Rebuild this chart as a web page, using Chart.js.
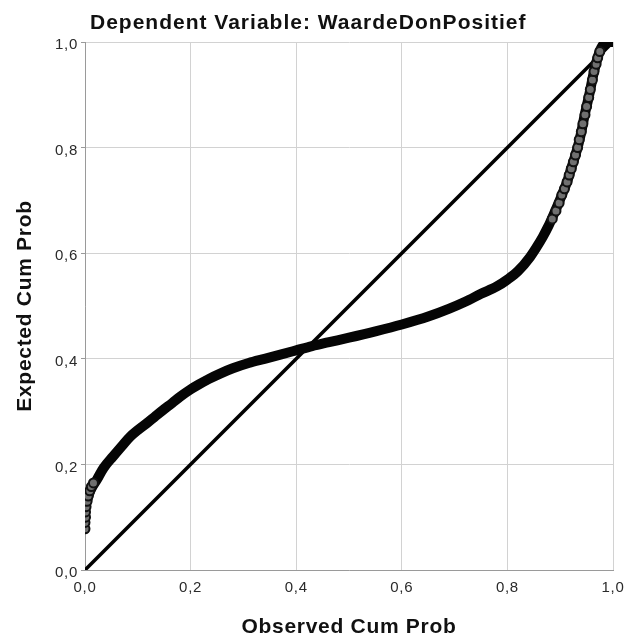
<!DOCTYPE html>
<html>
<head>
<meta charset="utf-8">
<script src="https://cdn.jsdelivr.net/npm/chart.js@4/dist/chart.umd.min.js"></script>
<style>
  html, body { margin: 0; padding: 0; background: #fff; }
  #wrap { width: 626px; height: 641px; }
</style>
</head>
<body>
<div id="wrap"><canvas id="ppPlot"></canvas></div>
<script>
// P-P plot of the regression residuals
var titleText = 'Dependent Variable: WaardeDonPositief';
var xTitle = 'Observed Cum Prob';
var yTitle = 'Expected Cum Prob';
var tickValues = [0, 0.2, 0.4, 0.6, 0.8, 1.0];

// dense run of cases, traced along its centre
var observedCum = [0.002, 0.01, 0.023, 0.035, 0.053, 0.07, 0.085, 0.1, 0.117, 0.133,
    0.148, 0.165, 0.18, 0.2, 0.215, 0.235, 0.256, 0.28, 0.31, 0.34,
    0.37, 0.4, 0.43, 0.46, 0.5, 0.55, 0.6, 0.65, 0.69, 0.72,
    0.75, 0.78, 0.8, 0.82, 0.843, 0.855, 0.867, 0.877, 0.887, 0.897,
    0.905, 0.913, 0.92, 0.927, 0.933, 0.94, 0.947, 0.955, 0.962, 0.968,
    0.974, 0.98, 0.99, 0.998];
var expectedCum = [0.125, 0.15, 0.172, 0.193, 0.215, 0.235, 0.252, 0.265, 0.278, 0.291,
    0.303, 0.316, 0.328, 0.342, 0.351, 0.362, 0.372, 0.382, 0.392, 0.4,
    0.408, 0.416, 0.424, 0.431, 0.44, 0.452, 0.465, 0.48, 0.495, 0.508,
    0.523, 0.537, 0.55, 0.566, 0.593, 0.611, 0.631, 0.65, 0.672, 0.695,
    0.715, 0.735, 0.758, 0.78, 0.8, 0.83, 0.865, 0.9, 0.935, 0.96,
    0.98, 0.993, 1.0, 1.0];

// separate cases at both tails
var tailObs = [0, 0, 0.001, 0.001, 0.002, 0.004, 0.006, 0.009, 0.012, 0.016,
    0.885, 0.892, 0.898, 0.903, 0.908, 0.913, 0.917, 0.921, 0.925, 0.929,
    0.933, 0.936, 0.94, 0.943, 0.947, 0.95, 0.954, 0.957, 0.961, 0.964,
    0.968, 0.971, 0.975];
var tailExp = [0.078, 0.09, 0.1, 0.11, 0.12, 0.13, 0.14, 0.15, 0.158, 0.165,
    0.665, 0.68, 0.695, 0.71, 0.722, 0.735, 0.748, 0.76, 0.773, 0.786,
    0.8, 0.815, 0.83, 0.845, 0.862, 0.878, 0.895, 0.91, 0.928, 0.944,
    0.958, 0.97, 0.982];

// reference diagonal
var diagObs = [0, 1];
var diagExp = [0, 1];

function toPoints(xs, ys) {
    return xs.map(function (x, i) { return { x: x, y: ys[i] }; });
}

var fontFamily = '"Liberation Sans", Arial, sans-serif';

// slightly wider text spacing for axis labels, title left aligned to the plot area
var plotTitle = {
    id: 'plotTitle',
    beforeDraw: function (chart) {
        chart.ctx.letterSpacing = '0.7px';
    },
    afterDraw: function (chart) {
        var ctx = chart.ctx;
        ctx.save();
        ctx.letterSpacing = '1px';
        ctx.font = 'bold 21px ' + fontFamily;
        ctx.fillStyle = '#111';
        ctx.textAlign = 'left';
        ctx.textBaseline = 'alphabetic';
        ctx.fillText(titleText, chart.chartArea.left + 5, 29);
        ctx.restore();
        ctx.letterSpacing = '0px';
    }
};

new Chart(document.getElementById('ppPlot'), {
    type: 'scatter',
    data: {
        datasets: [{
            data: toPoints(diagObs, diagExp),
            showLine: true,
            borderColor: '#000',
            borderWidth: 3.5,
            pointRadius: 0,
            order: 3
        }, {
            data: toPoints(observedCum, expectedCum),
            showLine: true,
            cubicInterpolationMode: 'monotone',
            borderColor: '#050505',
            borderWidth: 10,
            borderCapStyle: 'round',
            borderJoinStyle: 'round',
            pointRadius: 0,
            order: 2
        }, {
            data: toPoints(tailObs, tailExp),
            pointRadius: 4.5,
            pointBackgroundColor: '#707070',
            pointBorderColor: '#111',
            pointBorderWidth: 2,
            order: 1
        }]
    },
    options: {
        responsive: true,
        maintainAspectRatio: false,
        animation: false,
        events: [],
        layout: { padding: { top: 42, right: 13, bottom: 0, left: 0 } },
        plugins: {
            legend: { display: false },
            tooltip: { enabled: false }
        },
        scales: {
            x: {
                type: 'linear',
                min: 0,
                max: 1,
                afterFit: function (scale) {
                    scale.height = 71;
                    scale.paddingLeft = 0;
                    scale.paddingRight = 0;
                },
                afterBuildTicks: function (scale) {
                    scale.ticks = tickValues.map(function (v) { return { value: v }; });
                },
                grid: { color: '#d2d2d2', lineWidth: 1, drawTicks: false },
                border: { color: '#9a9a9a', width: 1 },
                ticks: {
                    padding: 9,
                    color: '#2a2a2a',
                    font: { family: fontFamily, size: 15 },
                    maxRotation: 0,
                    callback: function (v) { return v.toFixed(1).replace('.', ','); }
                },
                title: {
                    display: true,
                    text: xTitle,
                    color: '#111',
                    font: { family: fontFamily, size: 21, weight: 'bold' },
                    padding: { top: 0, bottom: 1 }
                }
            },
            y: {
                type: 'linear',
                min: 0,
                max: 1,
                afterFit: function (scale) {
                    scale.width = 85;
                    scale.paddingTop = 0;
                    scale.paddingBottom = 0;
                },
                afterBuildTicks: function (scale) {
                    scale.ticks = tickValues.map(function (v) { return { value: v }; });
                },
                grid: { color: '#d2d2d2', lineWidth: 1, tickLength: 4, tickColor: '#9a9a9a' },
                border: { color: '#9a9a9a', width: 1 },
                ticks: {
                    padding: 3,
                    labelOffset: 3,
                    color: '#2a2a2a',
                    font: { family: fontFamily, size: 15 },
                    callback: function (v) { return v.toFixed(1).replace('.', ','); }
                },
                title: {
                    display: true,
                    text: yTitle,
                    color: '#111',
                    font: { family: fontFamily, size: 21, weight: 'bold' },
                    padding: { top: 13, bottom: 0 }
                }
            }
        }
    },
    plugins: [plotTitle]
});
</script>
</body>
</html>
